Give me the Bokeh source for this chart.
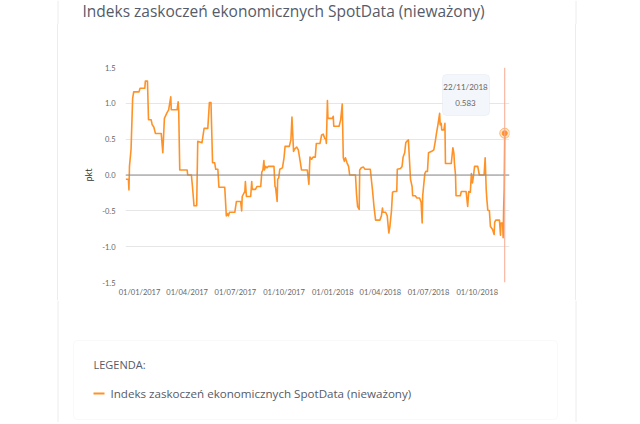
import pandas as pd
from bokeh.plotting import figure
from bokeh.layouts import column
from bokeh.models import (BoxAnnotation, Span, FixedTicker, DatetimeTickFormatter,
                          NumeralTickFormatter, Range1d, ColumnDataSource)
from bokeh.core.properties import value
from bokeh.embed import file_html
from bokeh.resources import INLINE

title_text = "Indeks zaskoczeń ekonomicznych SpotData (nieważony)"
legend_title = "LEGENDA:"
series_name = "Indeks zaskoczeń ekonomicznych SpotData (nieważony)"
y_axis_label = "pkt"

dates = [
    "2016-12-06", "2016-12-11", "2016-12-12", "2016-12-13", "2016-12-16", "2016-12-19", "2016-12-21", "2016-12-31",
    "2017-01-02", "2017-01-11", "2017-01-12", "2017-01-16", "2017-01-18", "2017-01-23", "2017-01-25", "2017-01-28",
    "2017-01-31", "2017-02-11", "2017-02-14", "2017-02-17", "2017-02-22", "2017-02-25", "2017-03-01", "2017-03-02",
    "2017-03-13", "2017-03-15", "2017-03-16", "2017-03-18", "2017-04-01", "2017-04-02", "2017-04-09", "2017-04-11",
    "2017-04-14", "2017-04-19", "2017-04-21", "2017-04-29", "2017-05-03", "2017-05-10", "2017-05-13", "2017-05-16",
    "2017-05-19", "2017-05-23", "2017-05-25", "2017-05-29", "2017-05-31", "2017-06-11", "2017-06-14", "2017-06-16",
    "2017-06-18", "2017-06-20", "2017-06-30", "2017-07-03", "2017-07-11", "2017-07-13", "2017-07-14", "2017-07-19",
    "2017-07-20", "2017-07-22", "2017-07-30", "2017-08-01", "2017-08-02", "2017-08-08", "2017-08-11", "2017-08-18",
    "2017-08-20", "2017-08-22", "2017-08-24", "2017-08-25", "2017-08-27", "2017-08-30", "2017-09-01", "2017-09-12",
    "2017-09-14", "2017-09-15", "2017-09-18", "2017-09-19", "2017-09-21", "2017-09-23", "2017-09-28", "2017-10-01",
    "2017-10-03", "2017-10-11", "2017-10-14", "2017-10-16", "2017-10-19", "2017-10-22", "2017-10-25", "2017-10-28",
    "2017-11-01", "2017-11-03", "2017-11-14", "2017-11-17", "2017-11-19", "2017-11-22", "2017-11-25", "2017-11-29",
    "2017-12-01", "2017-12-08", "2017-12-09", "2017-12-11", "2017-12-14", "2017-12-17", "2017-12-19", "2017-12-20",
    "2017-12-22", "2017-12-23", "2017-12-31", "2018-01-02", "2018-01-03", "2018-01-13", "2018-01-16", "2018-01-19",
    "2018-01-21", "2018-01-23", "2018-01-25", "2018-01-28", "2018-01-31", "2018-02-02", "2018-02-13", "2018-02-15",
    "2018-02-17", "2018-02-20", "2018-02-21", "2018-02-24", "2018-02-28", "2018-03-03", "2018-03-13", "2018-03-17",
    "2018-03-20", "2018-03-23", "2018-03-31", "2018-04-03", "2018-04-05", "2018-04-06", "2018-04-11", "2018-04-14",
    "2018-04-17", "2018-04-19", "2018-04-22", "2018-04-24", "2018-04-27", "2018-05-02", "2018-05-03", "2018-05-09",
    "2018-05-12", "2018-05-14", "2018-05-17", "2018-05-19", "2018-05-21", "2018-05-24", "2018-05-26", "2018-05-28",
    "2018-05-31", "2018-06-01", "2018-06-06", "2018-06-09", "2018-06-14", "2018-06-17", "2018-06-19", "2018-06-20",
    "2018-06-24", "2018-06-26", "2018-06-29", "2018-07-01", "2018-07-07", "2018-07-11", "2018-07-14", "2018-07-16",
    "2018-07-19", "2018-07-22", "2018-07-23", "2018-07-25", "2018-07-26", "2018-07-30", "2018-08-01", "2018-08-02",
    "2018-08-13", "2018-08-16", "2018-08-18", "2018-08-19", "2018-08-21", "2018-08-22", "2018-08-30", "2018-09-01",
    "2018-09-10", "2018-09-13", "2018-09-15", "2018-09-18", "2018-09-20", "2018-09-22", "2018-09-24", "2018-09-26",
    "2018-10-02", "2018-10-05", "2018-10-14", "2018-10-16", "2018-10-18", "2018-10-19", "2018-10-21", "2018-10-24",
    "2018-10-26", "2018-10-30", "2018-11-02", "2018-11-03", "2018-11-05", "2018-11-12", "2018-11-14", "2018-11-15",
    "2018-11-18", "2018-11-19", "2018-11-20", "2018-11-21", "2018-11-22",
]
values = [
    -0.06, -0.06, -0.21, 0.12, 0.36, 1.07, 1.16, 1.16,
    1.21, 1.21, 1.31, 1.31, 0.77, 0.77, 0.70, 0.67,
    0.58, 0.58, 0.31, 0.79, 0.87, 0.91, 1.09, 0.91,
    0.91, 1.02, 0.91, 0.07, 0.07, 0.00, 0.00, -0.16,
    -0.43, -0.43, 0.47, 0.45, 0.65, 0.65, 1.01, 1.01,
    0.17, 0.17, 0.08, 0.08, -0.17, -0.17, -0.57, -0.54,
    -0.57, -0.52, -0.52, -0.37, -0.37, -0.50, -0.30, -0.23,
    -0.09, -0.30, -0.30, -0.09, -0.20, -0.20, -0.16, -0.16,
    0.04, 0.07, 0.20, 0.07, 0.12, 0.10, 0.12, 0.12,
    -0.16, -0.17, -0.37, -0.06, -0.04, 0.08, 0.10, 0.24,
    0.40, 0.40, 0.49, 0.81, 0.33, 0.37, 0.39, 0.35,
    0.17, 0.07, 0.07, -0.13, 0.25, 0.22, 0.25, 0.25,
    0.44, 0.44, 0.48, 0.56, 0.57, 0.51, 0.50, 0.44,
    1.04, 0.79, 0.79, 0.82, 0.68, 0.68, 0.77, 0.99,
    0.24, 0.19, 0.24, 0.17, 0.12, 0.00, 0.00, -0.27,
    -0.44, -0.48, 0.07, 0.10, 0.11, 0.08, 0.08, -0.20,
    -0.44, -0.63, -0.63, -0.57, -0.46, -0.52, -0.52, -0.57,
    -0.81, -0.72, -0.50, -0.24, -0.23, -0.23, 0.08, 0.09,
    0.12, 0.25, 0.31, 0.45, 0.47, 0.49, 0.21, -0.06,
    -0.16, -0.29, -0.29, -0.32, -0.32, -0.38, -0.67, -0.29,
    0.02, 0.05, 0.05, 0.31, 0.33, 0.35, 0.48, 0.58,
    0.71, 0.86, 0.70, 0.72, 0.63, 0.63, 0.72, 0.16,
    0.16, 0.38, 0.30, 0.16, 0.00, -0.29, -0.29, -0.23,
    -0.23, -0.44, -0.23, -0.24, 0.02, -0.11, -0.01, 0.12,
    0.12, 0.00, 0.00, 0.24, -0.20, -0.32, -0.49, -0.50,
    -0.72, -0.76, -0.83, -0.66, -0.63, -0.63, -0.84, -0.67,
    -0.67, -0.875, -0.45, -0.20, 0.583,
]
x_tick_dates = ["2017-01-01", "2017-04-01", "2017-07-01", "2017-10-01",
                "2018-01-01", "2018-04-01", "2018-07-01", "2018-10-01"]
y_ticks = [-1.5, -1.0, -0.5, 0.0, 0.5, 1.0, 1.5]
hover_date = "2018-11-22"
hover_value = 0.583
hover_date_label = "22/11/2018"
hover_value_label = "0.583"

LINE = "#ff9226"
TEXT = "#555b68"
FONT = "Lato"
CARD = "#ececec"
W = 640


def blank_fig(height, y_top, y_bottom):
    f = figure(width=W, height=height, output_backend="svg", toolbar_location=None,
               x_range=Range1d(0, W), y_range=Range1d(y_bottom, y_top),
               min_border_left=0, min_border_right=0, min_border_top=0, min_border_bottom=0,
               x_axis_type=None, y_axis_type=None, frame_align=False)
    f.outline_line_color = None
    f.grid.grid_line_color = None
    f.background_fill_alpha = 0
    f.border_fill_alpha = 0
    f.segment(x0=[57.5, 575.5], x1=[57.5, 575.5], y0=[y_top, y_top], y1=[y_bottom, y_bottom],
              line_color=CARD, line_width=1)
    return f


# ---- title strip (page y 0..24) ----
top = blank_fig(24, 0, 24)
top.text(x=[82], y=[10.5], text=[title_text], text_font=value("Open Sans"),
         text_font_size="15.5px", text_color=TEXT, text_baseline="middle", text_align="left")

# ---- chart (page y 24..300) ----
src = ColumnDataSource(dict(x=pd.to_datetime(dates), y=values))
p = figure(width=W, height=276, x_axis_type="datetime", output_backend="svg",
           toolbar_location=None, frame_align=False,
           x_range=Range1d(pd.Timestamp("2016-12-05 12:00"), pd.Timestamp("2018-12-01")),
           y_range=Range1d(-1.5, 1.5),
           min_border_left=125, min_border_right=W - 509, min_border_top=43, min_border_bottom=18)
p.outline_line_color = None
p.background_fill_color = "white"
p.border_fill_alpha = 0
p.styles = {"background": "linear-gradient(90deg, transparent 57px, %s 57px, %s 58px, "
                          "transparent 58px, transparent 575px, %s 575px, %s 576px, "
                          "transparent 576px)" % (CARD, CARD, CARD, CARD)}

p.xgrid.grid_line_color = None
p.ygrid.grid_line_color = "#e6e6e6"
p.ygrid.ticker = FixedTicker(ticks=y_ticks)

p.xaxis.ticker = FixedTicker(ticks=[pd.Timestamp(d).value // 10**6 for d in x_tick_dates])
p.xaxis.formatter = DatetimeTickFormatter(days="%d/%m/%Y", months="%d/%m/%Y", years="%d/%m/%Y")
p.yaxis.ticker = FixedTicker(ticks=y_ticks)
p.yaxis.formatter = NumeralTickFormatter(format="0.0")
for ax in (p.xaxis, p.yaxis):
    ax.axis_line_color = None
    ax.major_tick_line_color = None
    ax.minor_tick_line_color = None
    ax.major_tick_out = 0
    ax.major_tick_in = 0
    ax.major_label_text_font = FONT
    ax.major_label_text_font_size = "7.5px"
    ax.major_label_text_color = "#666666"
p.xaxis.major_label_standoff = 5
p.yaxis.major_label_standoff = 10
p.yaxis.axis_label = y_axis_label
p.yaxis.axis_label_text_font = FONT
p.yaxis.axis_label_text_font_style = "normal"
p.yaxis.axis_label_text_font_size = "9px"
p.yaxis.axis_label_text_color = "#333333"
p.yaxis.axis_label_standoff = 5

p.add_layout(Span(location=0, dimension="width", line_color="#8c8c8c", line_width=1))
p.add_layout(Span(location=pd.Timestamp(hover_date), dimension="height",
                  line_color="#f6a88f", line_width=1))

p.line("x", "y", source=src, line_color=LINE, line_width=1.6, line_join="round")
p.scatter([pd.Timestamp(hover_date)], [hover_value], size=10, fill_color=LINE, fill_alpha=0.25,
          line_color=LINE, line_alpha=0.6)
p.scatter([pd.Timestamp(hover_date)], [hover_value], size=5, fill_color=LINE, line_color=LINE)


# tooltip (frame-relative screen units; frame left=125, bottom=282 on page)
def sx(px):
    return px - 125


def sy(py):
    return 282 - py


p.add_layout(BoxAnnotation(left=sx(442), right=sx(489), top=sy(74), bottom=sy(115),
                           left_units="screen", right_units="screen",
                           top_units="screen", bottom_units="screen",
                           fill_color="#f3f7fb", fill_alpha=1, line_color="#d3deea",
                           line_width=1, border_radius=4))
tt_x = pd.Timestamp("2018-09-08 22:00")
p.text(x=[tt_x, tt_x], y=[0.0, 0.0], text=[hover_date_label, hover_value_label],
       x_offset=[0, 0], y_offset=[-(282 - 87 - 106.7), -(282 - 103.5 - 106.7)],
       text_font=value(FONT), text_font_size="8px", text_color="#666666",
       text_baseline="middle", text_align="center", level="overlay")

# ---- legend (page y 300..422) ----
leg = blank_fig(122, 300, 422)
leg.add_layout(BoxAnnotation(left=73, right=557, top=340, bottom=419,
                             fill_color="white", fill_alpha=1, line_color=CARD,
                             line_width=1, border_radius=4, level="underlay"))
leg.text(x=[93], y=[364], text=[legend_title], text_font=value("Open Sans"),
         text_font_size="11px", text_color=TEXT, text_baseline="middle", text_align="left")
leg.segment(x0=[93], x1=[104], y0=[393], y1=[393], line_color=LINE, line_width=2)
leg.text(x=[110], y=[393], text=[series_name], text_font=value("Open Sans"),
         text_font_size="11.6px", text_color=TEXT, text_baseline="middle", text_align="left")

layout = column(top, p, leg, spacing=0)
open("out.html", "w").write(file_html(layout, INLINE))
